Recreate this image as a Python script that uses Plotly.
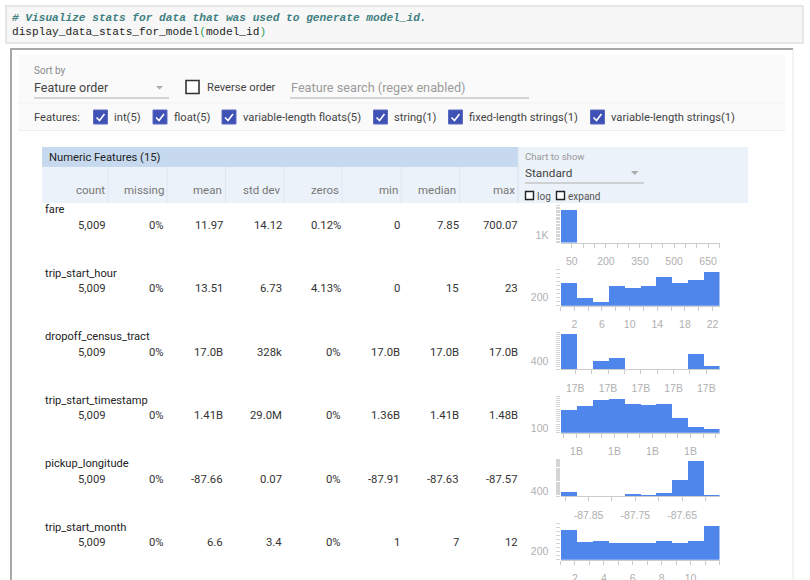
import numpy as np
import plotly.graph_objects as go

features = ['fare', 'trip_start_hour', 'dropoff_census_tract', 'trip_start_timestamp', 'pickup_longitude',
            'trip_start_month']
counts = ['5,009', '5,009', '5,009', '5,009', '5,009', '5,009']
missing = ['0%', '0%', '0%', '0%', '0%', '0%']
means = ['11.97', '13.51', '17.0B', '1.41B', '-87.66', '6.6']
std_devs = ['14.12', '6.73', '328k', '29.0M', '0.07', '3.4']
zeros = ['0.12%', '4.13%', '0%', '0%', '0%', '0%']
mins = ['0', '0', '17.0B', '1.36B', '-87.91', '1']
medians = ['7.85', '15', '17.0B', '1.41B', '-87.63', '7']
maxs = ['700.07', '23', '17.0B', '1.48B', '-87.57', '12']
columns = ['count', 'missing', 'mean', 'std dev', 'zeros', 'min', 'median', 'max']

fare_hist = [4700, 0, 0, 0, 0, 0, 0, 0, 0, 0]
hour_hist = [550, 175, 90, 490, 440, 475, 710, 560, 640, 815]
tract_hist = [1720, 0, 370, 500, 0, 0, 0, 0, 730, 150]
stamp_hist = [530, 610, 750, 780, 670, 650, 670, 330, 125, 90]
longitude_hist = [310, 0, 0, 0, 90, 30, 280, 1420, 3250, 20]
month_hist = [725, 425, 460, 420, 410, 400, 460, 400, 460, 815]
histograms = [fare_hist, hour_hist, tract_hist, stamp_hist, longitude_hist, month_hist]

x_lows = [0, 0, 17031010100, 1.3574e9, -87.91, 1]
x_highs = [700.07, 23, 17031980100, 1.4829e9, -87.57, 12]

x_ticks = [[50, 100, 150, 200, 250, 300, 350, 400, 450, 500, 550, 600, 650, 700],
           [0, 2, 4, 6, 8, 10, 12, 14, 16, 18, 20, 22],
           [17031100000, 17031200000, 17031300000, 17031400000, 17031500000, 17031600000, 17031700000,
            17031800000, 17031900000],
           [1.36e9, 1.37e9, 1.38e9, 1.39e9, 1.40e9, 1.41e9, 1.42e9, 1.43e9, 1.44e9, 1.45e9, 1.46e9, 1.47e9, 1.48e9],
           [-87.90, -87.85, -87.80, -87.75, -87.70, -87.65, -87.60],
           [1, 2, 3, 4, 5, 6, 7, 8, 9, 10, 11, 12]]
x_labels = [['50', '', '', '200', '', '', '350', '', '', '500', '', '', '650', ''],
            ['', '2', '', '6', '', '10', '', '14', '', '18', '', '22'],
            ['17B', '', '17B', '', '17B', '', '17B', '', '17B'],
            ['', '1B', '', '', '1B', '', '', '1B', '', '', '1B', '', ''],
            ['', '-87.85', '', '-87.75', '', '-87.65', ''],
            ['', '2', '', '4', '', '6', '', '8', '', '10', '', '']]

y_highs = [5200, 900, 1800, 850, 3400, 900]
y_steps = [200, 100, 100, 50, 100, 100]
y_marks = [1000, 200, 400, 100, 400, 200]
y_mark_labels = ['1K', '200', '400', '100', '400', '200']

W, H = 810, 580
BASELINES = [242.5, 305.7, 369, 432.7, 496, 559.7]
CHART_H = 36.6
CHART_L, CHART_R = 560.5, 719.5
COL_RIGHT = [106.5, 165, 224, 283, 342, 400.5, 460, 518.5]
HEAD_RIGHT = [106, 164.5, 223, 281.5, 340, 398.5, 457, 515.5]
COL_SEPS = [108, 167, 225.5, 284, 342, 401, 459.5]
ROW_NAME_Y = [209, 273, 336, 400, 463, 527]
ROW_VALUE_Y = [225, 288.5, 352, 415.5, 479, 542.5]

UI_FONT = 'Roboto'
shapes = []
notes = []


def px(x):
    return x / W


def py(y):
    return 1 - y / H


def rect(x0, y0, x1, y1, fill, line=None, width=1):
    shapes.append(dict(type='rect', xref='paper', yref='paper', x0=px(x0), x1=px(x1), y0=py(y0), y1=py(y1),
                       fillcolor=fill, line=dict(color=line or 'rgba(0,0,0,0)', width=width if line else 0),
                       layer='below'))


def poly(points, fill=None, line=None, width=1, close=False):
    path = 'M ' + ' L '.join(f'{px(a):.5f} {py(b):.5f}' for a, b in points) + (' Z' if close else '')
    shapes.append(dict(type='path', xref='paper', yref='paper', path=path, fillcolor=fill or 'rgba(0,0,0,0)',
                       line=dict(color=line or 'rgba(0,0,0,0)', width=width if line else 0), layer='below'))


def label(x, y, text, size=12.5, color='#444444', anchor='left', family=UI_FONT):
    notes.append(dict(xref='paper', yref='paper', x=px(x), y=py(y), text=text, showarrow=False, xanchor=anchor,
                      yanchor='middle', borderpad=0, font=dict(family=family, size=size, color=color)))


def checkbox(x, y, text):
    rect(x, y, x + 14, y + 14, '#3f51b5', '#5c6bc0', 1)
    poly([(x + 3, y + 7.5), (x + 6, y + 10.5), (x + 11, y + 4)], line='white', width=1.6)
    label(x + 19.5, y + 7, text, 11.2)


# code cell
rect(6, 6, 803, 43, '#f7f7f7', '#e0e0e0', 1.5)
label(11, 18, '<b><i># Visualize stats for data that was used to generate model_id.</i></b>', 11.15, '#408080',
      family='Liberation Mono')
label(11, 32, 'display_data_stats_for_model<span style="color:#2e9e4f">(</span>model_id'
              '<span style="color:#2e9e4f">)</span>', 11.15, '#222222', family='Liberation Mono')

# outer panel
rect(11, 49, 793, 600, 'white', '#e8e8e8', 1)
poly([(11, 600), (11, 49), (793, 49)], line='#a8a8a8', width=2)

# controls
rect(18, 55, 785, 102, '#fafafa')
rect(18, 104, 785, 130, '#fafafa')
poly([(18, 103), (785, 103)], line='#eeeeee')
poly([(18, 130.5), (785, 130.5)], line='#eeeeee')
label(33, 71, 'Sort by', 10, '#8a8a8a')
label(33, 87, 'Feature order', 12.5)
poly([(34, 98), (169, 98)], line='#b0b0b0', width=1.2)
poly([(156, 86), (163, 86), (159.5, 89.5)], fill='#aaaaaa', close=True)
rect(186, 80.5, 199, 93.5, 'white', '#333333', 1.6)
label(205.5, 87, 'Reverse order', 11.2)
label(289.5, 87, 'Feature search (regex enabled)', 12.7, '#9a9a9a')
poly([(290, 98), (529, 98)], line='#b0b0b0', width=1.2)

label(33, 117, 'Features:', 11.2)
checkbox(93.5, 110, 'int(5)')
checkbox(153, 110, 'float(5)')
checkbox(222, 110, 'variable-length floats(5)')
checkbox(373.5, 110, 'string(1)')
checkbox(448.5, 110, 'fixed-length strings(1)')
checkbox(590.5, 110, 'variable-length strings(1)')

# table header
rect(42, 147, 518, 167, '#c6d9ee')
rect(42, 167, 518, 203, '#ecf2f9')
rect(518, 147, 748, 203, '#ecf2f9')
for sep in COL_SEPS:
    poly([(sep, 167), (sep, 203)], line='#dfe7f1')
poly([(518, 147), (518, 203)], line='#d5e0ee')
label(48, 157, 'Numeric Features (15)', 11.2, '#222222')
for col, right in zip(columns, HEAD_RIGHT):
    label(right, 189.5, col, 11.5, '#777777', anchor='right')

label(524, 156, 'Chart to show', 9.6, '#999999')
label(524, 172.5, 'Standard', 11.8)
poly([(525, 183), (644, 183)], line='#b0b0b0', width=1.2)
poly([(631, 171), (638.5, 171), (634.7, 175)], fill='#aaaaaa', close=True)
rect(525.5, 191.5, 533.5, 199.5, 'white', '#222222', 1.4)
label(535.5, 196, 'log', 10, '#555555')
rect(556.5, 191.5, 564.5, 199.5, 'white', '#222222', 1.4)
label(566.5, 196, 'expand', 10, '#555555')

# table rows
stat_columns = [counts, missing, means, std_devs, zeros, mins, medians, maxs]
for i, name in enumerate(features):
    label(44, ROW_NAME_Y[i], name, 11.1, '#222222')
    for values, right in zip(stat_columns, COL_RIGHT):
        label(right, ROW_VALUE_Y[i], values[i], 11.3, '#333333', anchor='right')

fig = go.Figure()
axes = {}
for i, values in enumerate(histograms):
    n = '' if i == 0 else str(i + 1)
    edges = np.linspace(x_lows[i], x_highs[i], len(values) + 1)
    fig.add_trace(go.Bar(x=edges[:-1], y=values, width=edges[1] - edges[0], offset=0,
                         xaxis='x' + n, yaxis='y' + n, showlegend=False,
                         marker=dict(color='#4f86ec', line=dict(width=0))))
    y_ticks = list(range(0, y_highs[i] + 1, y_steps[i]))
    y_labels = [y_mark_labels[i] if t == y_marks[i] else '' for t in y_ticks]
    axes['xaxis' + n] = dict(domain=[px(CHART_L), px(CHART_R)], range=[x_lows[i], x_highs[i]], anchor='y' + n,
                             tickmode='array', tickvals=x_ticks[i], ticktext=x_labels[i], ticks='outside', ticklen=4,
                             tickcolor='#cccccc', showgrid=False, zeroline=False, showline=True, automargin=False,
                             linecolor='#cccccc', linewidth=1, ticklabelstandoff=5, tickangle=0,
                             tickfont=dict(family='Liberation Sans', size=10.5, color='#b0b0b0'))
    axes['yaxis' + n] = dict(domain=[py(BASELINES[i]), py(BASELINES[i] - CHART_H)], range=[0, y_highs[i]],
                             anchor='x' + n, tickmode='array', tickvals=y_ticks, ticktext=y_labels, ticks='outside',
                             ticklen=4, tickwidth=0.5, tickcolor='#d5d5d5', showgrid=False, zeroline=False,
                             showline=False, automargin=False, ticklabelstandoff=5,
                             tickfont=dict(family='Liberation Sans', size=10.5, color='#b0b0b0'))

fig.update_layout(width=W, height=H, margin=dict(l=0, r=0, t=0, b=0), paper_bgcolor='white',
                  plot_bgcolor='rgba(0,0,0,0)', bargap=0, shapes=shapes, annotations=notes, **axes)
fig.write_html("out.html", config={'displayModeBar': False}, post_script="document.body.style.margin='0';")
